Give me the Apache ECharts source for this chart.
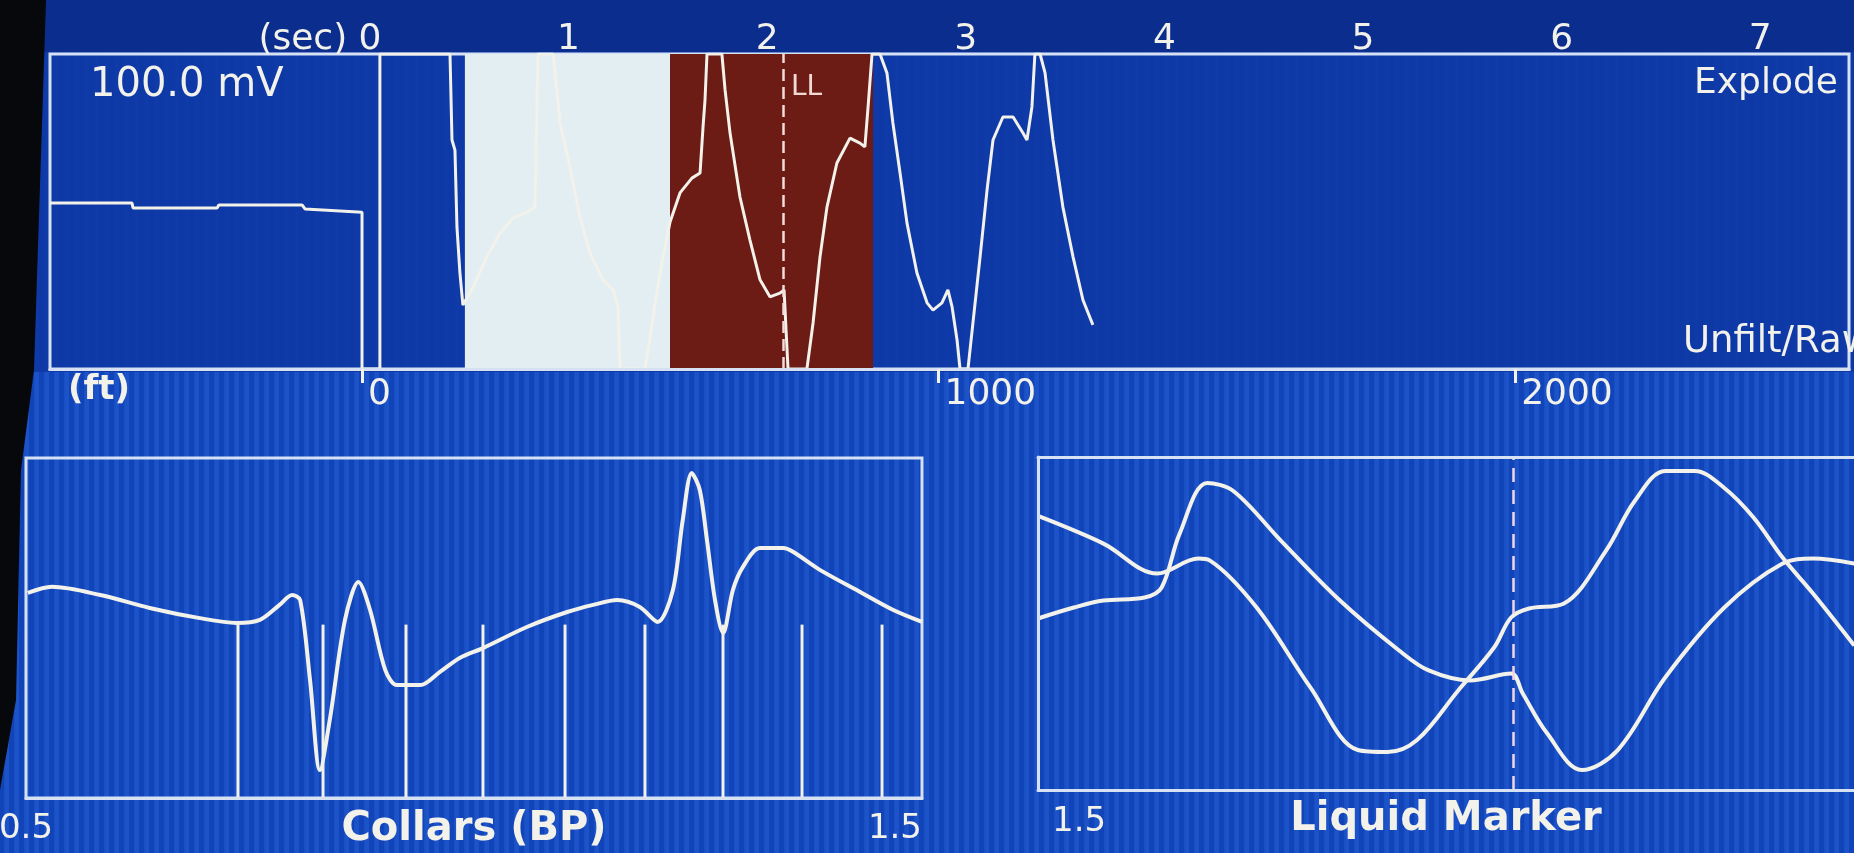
<!DOCTYPE html>
<html><head><meta charset="utf-8">
<script src="https://cdn.jsdelivr.net/npm/echarts@6/dist/echarts.min.js"></script>
<style>html,body{margin:0;padding:0;background:#0d38a6;overflow:hidden}#c{width:1854px;height:853px}</style>
</head><body><div id="c"></div>
<script>
// ---------- data ----------
const secTicks = [0, 1, 2, 3, 4, 5, 6, 7];
const ftTicks = [0, 1000, 2000];
const collarLabels = [0.5, 1.5];
const liquidLabels = [1.5];

// acoustic shot trace (seconds, % of panel height), clipped at panel edges
const rawTrace = [
  [-1.611, 52.7], [-1.198, 52.7], [-1.193, 51.1], [-0.770, 51.1], [-0.760, 52.1], [-0.342, 52.1],
  [-0.327, 50.8], [-0.040, 49.8], [-0.040, 0], [0.050, 0], [0.050, 100], [0.403, 100],
  [0.413, 72.7], [0.428, 69.5], [0.438, 45.1], [0.453, 30.5], [0.468, 20.3], [0.519, 26.0],
  [0.589, 35.6], [0.655, 43.2], [0.720, 47.9], [0.791, 49.8], [0.831, 51.4], [0.846, 100],
  [0.921, 100], [0.932, 94.0], [0.957, 78.1], [1.007, 64.1], [1.057, 48.3], [1.108, 36.8],
  [1.173, 28.3], [1.224, 25.1], [1.249, 19.7], [1.259, 0], [1.385, 0], [1.460, 30.5],
  [1.511, 46.7], [1.561, 55.9], [1.621, 60.6], [1.662, 62.2], [1.677, 76.8], [1.687, 85.4],
  [1.697, 100], [1.772, 100], [1.788, 88.6], [1.813, 74.9], [1.863, 54.6], [1.913, 41.0],
  [1.964, 28.3], [2.014, 22.9], [2.064, 24.1], [2.085, 25.1], [2.095, 12.4], [2.105, 0],
  [2.200, 0], [2.231, 14.6], [2.266, 35.6], [2.301, 51.4], [2.351, 65.4], [2.417, 73.3],
  [2.467, 71.7], [2.492, 70.5], [2.508, 83.2], [2.528, 100], [2.568, 100], [2.603, 94.0],
  [2.633, 78.1], [2.669, 62.2], [2.704, 46.3], [2.754, 30.5], [2.805, 21.0], [2.835, 18.7],
  [2.880, 21.0], [2.910, 25.1], [2.931, 19.7], [2.956, 9.2], [2.971, 0], [3.011, 0],
  [3.036, 14.6], [3.072, 35.6], [3.107, 56.8], [3.137, 72.7], [3.187, 80.0], [3.238, 80.0],
  [3.288, 74.9], [3.308, 72.7], [3.333, 83.2], [3.348, 100], [3.374, 100], [3.399, 94.0],
  [3.439, 72.7], [3.489, 51.4], [3.540, 35.6], [3.590, 21.9], [3.640, 14.0]
];
const explodeZone = [0.478, 1.511];
const filterZone = [1.511, 2.533];
const llMarkerSec = 2.085;

// collars window (BP)
const collarTrace = [
  [0.502, 60.3], [0.529, 62.1], [0.583, 59.7], [0.638, 55.9], [0.694, 52.9], [0.735, 51.5],
  [0.761, 52.4], [0.783, 56.8], [0.797, 59.7], [0.806, 58.2], [0.817, 34.7], [0.828, 8.2],
  [0.839, 22.9], [0.856, 52.4], [0.871, 63.5], [0.884, 55.3], [0.901, 37.6], [0.914, 33.2],
  [0.940, 33.2], [0.962, 37.1], [0.984, 41.2], [1.010, 44.1], [1.059, 50.3], [1.104, 54.7],
  [1.133, 56.8], [1.160, 58.2], [1.185, 56.2], [1.205, 51.8], [1.222, 61.2], [1.233, 81.8],
  [1.243, 95.6], [1.252, 90.6], [1.260, 75.9], [1.269, 58.2], [1.278, 48.5], [1.289, 61.2],
  [1.300, 67.9], [1.319, 73.5], [1.345, 73.5], [1.356, 72.4], [1.386, 67.1], [1.431, 60.6],
  [1.468, 55.3], [1.500, 51.8]
];
const collarMarks = [
  [0.7366, 51], [0.8315, 51], [0.9241, 51], [1.0100, 51], [1.1016, 51],
  [1.1908, 51], [1.2779, 51], [1.3661, 51], [1.4554, 51]
];

// liquid marker window
const liquidA = [
  [1.500, 82.3], [1.573, 74.0], [1.633, 65.0], [1.679, 69.5], [1.692, 68.9], [1.744, 54.8],
  [1.804, 30.8], [1.857, 12.0], [1.890, 11.4], [1.923, 15.0], [1.969, 29.9], [2.009, 42.8],
  [2.028, 51.8], [2.048, 54.5], [2.087, 56.0], [2.134, 71.9], [2.166, 86.8], [2.200, 95.8],
  [2.233, 95.8], [2.266, 90.7], [2.299, 81.7], [2.331, 69.8], [2.365, 59.0], [2.411, 43.4]
];
const liquidB = [
  [1.500, 51.5], [1.540, 54.8], [1.573, 56.9], [1.619, 57.8], [1.638, 60.8], [1.658, 76.9],
  [1.689, 92.2], [1.718, 89.8], [1.771, 74.9], [1.837, 56.9], [1.903, 41.9], [1.936, 35.9],
  [1.982, 32.9], [2.028, 35.0], [2.041, 29.0], [2.068, 17.1], [2.107, 6.0], [2.147, 12.0],
  [2.200, 33.8], [2.266, 54.8], [2.331, 68.0], [2.365, 69.5], [2.411, 68.0]
];
const liquidMarker = 2.03;

// ---------- styling ----------
const FONT = 'DejaVu Sans';
const INK = '#f2f1ea';
const FRAME = '#d6e2f3';

// screen moire texture
const tex = document.createElement('canvas');
tex.width = 10; tex.height = 4;
(function () {
  const g = tex.getContext('2d');
  g.fillStyle = '#1244b9'; g.fillRect(0, 0, 10, 4);
  g.fillStyle = '#1c53c8'; g.fillRect(5, 0, 4, 4);
  g.fillStyle = '#1850c3'; g.fillRect(4, 0, 1, 4);
})();

const chart = echarts.init(document.getElementById('c'), null, {renderer: 'canvas'});

const frameGrid = {show: true, borderColor: FRAME, borderWidth: 3, backgroundColor: 'transparent', outerBoundsMode: 'none', containLabel: false};
const hiddenY = (g) => ({type: 'value', gridIndex: g, min: 0, max: 100, show: false});
const frameLine = {show: true, lineStyle: {color: FRAME, width: 3}};

const option = {
  animation: false,
  backgroundColor: {image: tex, repeat: 'repeat'},
  grid: [
    Object.assign({left: 50, top: 54, width: 1799, height: 315}, frameGrid),
    Object.assign({left: 26, top: 458, width: 896, height: 340}, frameGrid),
    Object.assign({}, frameGrid, {left: 1038, top: 457, right: 0, height: 333, show: false})
  ],
  xAxis: [
    {
      type: 'value', gridIndex: 0, position: 'top', min: -1.611, max: 7.447, z: 10,
      axisLine: frameLine, axisTick: {show: false}, splitLine: {show: false},
      axisLabel: {
        customValues: secTicks, color: INK, fontSize: 36, fontFamily: FONT, margin: -4,
        formatter: (v) => v === 0 ? '{s|(sec)} 0{p| }' : String(v),
        rich: {
          s: {fontSize: 36, fontFamily: FONT, color: INK},
          p: {fontSize: 36, fontFamily: FONT, width: 100}
        }
      }
    },
    {
      type: 'value', gridIndex: 0, position: 'bottom', min: -541, max: 2579, z: 10,
      axisLine: frameLine,
      axisTick: {show: true, customValues: ftTicks, length: 14, lineStyle: {color: INK, width: 3}},
      splitLine: {show: false},
      axisLabel: {customValues: ftTicks, color: INK, fontSize: 36, fontFamily: FONT, margin: 8, align: 'left',
                  padding: [0, 0, 0, 6], formatter: (v) => String(v)}
    },
    {
      type: 'value', gridIndex: 1, position: 'bottom', min: 0.5, max: 1.5, z: 10,
      axisLine: frameLine, axisTick: {show: false}, splitLine: {show: false},
      axisLabel: {customValues: collarLabels, color: INK, fontSize: 34, fontFamily: FONT, margin: 14,
                  alignMinLabel: 'center', alignMaxLabel: 'right', formatter: (v) => v.toFixed(1)},
      name: 'Collars (BP)', nameLocation: 'middle', nameGap: 12, nameMoveOverlap: false,
      nameTextStyle: {color: INK, fontSize: 40, fontWeight: 'bold', fontFamily: FONT, verticalAlign: 'top'}
    },
    {
      type: 'value', gridIndex: 2, position: 'bottom', min: 1.5, max: 2.4107, z: 10,
      axisLine: frameLine, axisTick: {show: false}, splitLine: {show: false},
      axisLabel: {customValues: liquidLabels, color: INK, fontSize: 34, fontFamily: FONT, margin: 15,
                  align: 'left', padding: [0, 0, 0, 14], formatter: (v) => v.toFixed(1)},
      name: 'Liquid Marker', nameLocation: 'middle', nameGap: 10, nameMoveOverlap: false,
      nameTextStyle: {color: INK, fontSize: 40, fontWeight: 'bold', fontFamily: FONT, verticalAlign: 'top'}
    },
    {
      type: 'value', gridIndex: 2, position: 'top', min: 1.5, max: 2.4107, z: 10,
      axisLine: frameLine, axisTick: {show: false}, axisLabel: {show: false}, splitLine: {show: false}
    }
  ],
  yAxis: [
    hiddenY(0), hiddenY(1),
    {type: 'value', gridIndex: 2, min: 0, max: 100, position: 'left', z: 10,
     axisLine: frameLine, axisTick: {show: false}, axisLabel: {show: false}, splitLine: {show: false}}
  ],
  series: [
    {
      type: 'line', xAxisIndex: 0, yAxisIndex: 0, data: rawTrace, showSymbol: false, clip: true,
      lineStyle: {color: INK, width: 3}, z: 3,
      markArea: {
        silent: true,
        data: [
          [{xAxis: explodeZone[0], itemStyle: {color: '#e3eef3', opacity: 1}}, {xAxis: explodeZone[1]}],
          [{xAxis: filterZone[0], itemStyle: {color: '#6d1b15', opacity: 1}}, {xAxis: filterZone[1]}]
        ]
      },
      markLine: {
        silent: true, symbol: 'none', label: {show: false},
        lineStyle: {color: '#f3dcd8', width: 2.5, type: [12, 6]},
        data: [{xAxis: llMarkerSec}]
      }
    },
    {
      type: 'line', xAxisIndex: 2, yAxisIndex: 1, data: collarTrace, showSymbol: false, smooth: 0.3,
      lineStyle: {color: INK, width: 4}, z: 3
    },
    {
      type: 'bar', xAxisIndex: 2, yAxisIndex: 1, data: collarMarks, barWidth: 3,
      itemStyle: {color: INK}, z: 2
    },
    {
      type: 'line', xAxisIndex: 3, yAxisIndex: 2, data: liquidA, showSymbol: false, smooth: 0.35,
      lineStyle: {color: INK, width: 4}, z: 3,
      markLine: {
        silent: true, symbol: 'none', label: {show: false},
        lineStyle: {color: '#f0d6e2', width: 2.5, type: [14, 8]},
        data: [{xAxis: liquidMarker}]
      }
    },
    {
      type: 'line', xAxisIndex: 3, yAxisIndex: 2, data: liquidB, showSymbol: false, smooth: 0.35,
      lineStyle: {color: INK, width: 4}, z: 3
    }
  ],
  graphic: [
    {type: 'rect', z: -1, silent: true, shape: {x: 0, y: 0, width: 1854, height: 52}, style: {fill: '#0b2d8e'}},
    {type: 'rect', z: -1, silent: true, shape: {x: 0, y: 52, width: 1854, height: 320}, style: {fill: 'rgba(11,52,160,0.78)'}},
    {type: 'text', z: 20, style: {text: '100.0 mV', x: 90, y: 86, fill: INK, font: '40px "DejaVu Sans"', textVerticalAlign: 'middle'}},
    {type: 'text', z: 20, style: {text: 'Explode', x: 1838, y: 84, fill: INK, font: '36px "DejaVu Sans"', textAlign: 'right', textVerticalAlign: 'middle'}},
    {type: 'text', z: 20, style: {text: 'Unfilt/Raw', x: 1683, y: 342, fill: INK, font: '37px "DejaVu Sans"', textVerticalAlign: 'middle'}},
    {type: 'text', z: 20, style: {text: 'LL', x: 791, y: 88, fill: '#f2d8d2', font: '28px "DejaVu Sans"', textVerticalAlign: 'middle'}},
    {type: 'text', z: 20, style: {text: '(ft)', x: 68, y: 390, fill: INK, font: 'bold 34px "DejaVu Sans"', textVerticalAlign: 'middle'}},
    {type: 'polygon', z: 30, silent: true, shape: {points: [[0, 0], [46, 0], [34, 370], [21, 470], [16, 700], [0, 790]]}, style: {fill: '#07080c'}}
  ]
};
chart.setOption(option);
</script>
</body></html>
